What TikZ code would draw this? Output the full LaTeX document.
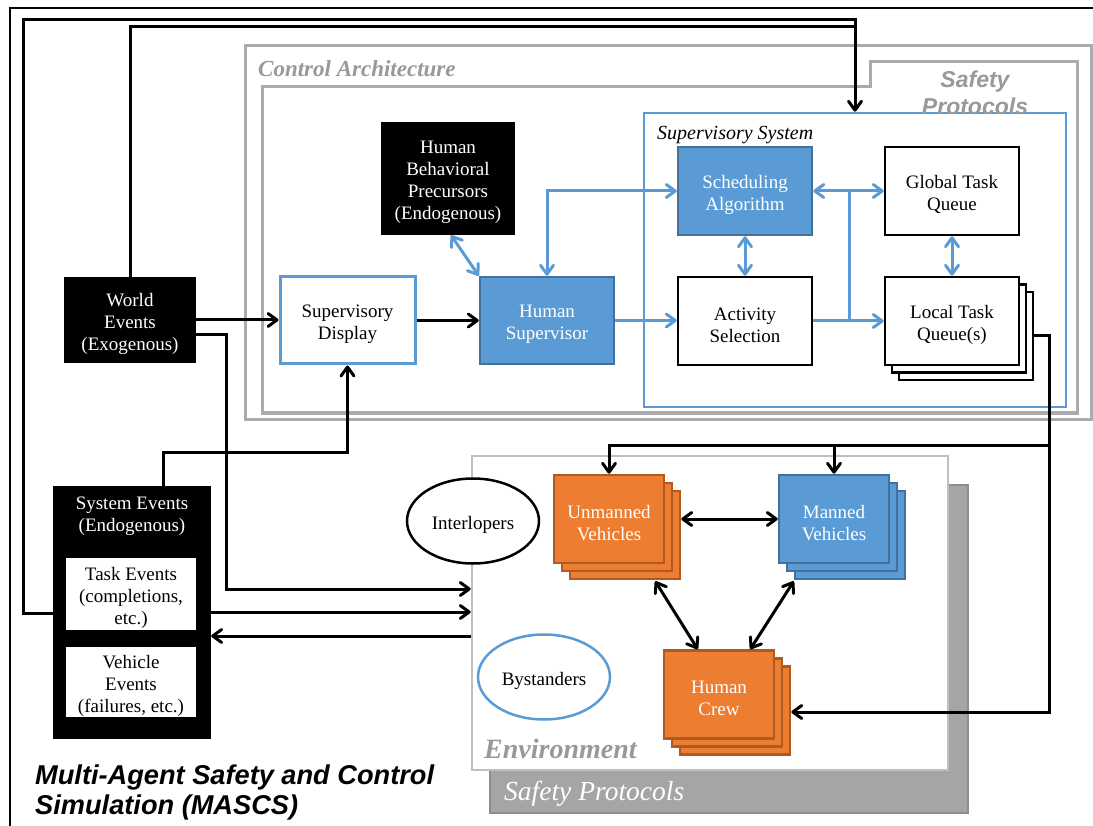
\documentclass[tikz,border=0pt]{standalone}
\usepackage{fontspec}
\setmainfont{Liberation Serif}
\newfontfamily\arialf{Liberation Sans}
\usetikzlibrary{arrows.meta,shadows,calc,shapes.geometric}
\definecolor{bl}{HTML}{5B9BD5}
\definecolor{bld}{HTML}{41719C}
\definecolor{orf}{HTML}{ED7D31}
\definecolor{ord}{HTML}{AE5A21}
\definecolor{frg}{HTML}{ABABAB}
\definecolor{txg}{HTML}{999999}
\definecolor{envg}{HTML}{BFBFBF}
\definecolor{shg}{HTML}{A5A5A5}
\definecolor{shgd}{HTML}{8E8E8E}
\begin{document}
\begin{tikzpicture}[x=1pt,y=-1pt,
  >={Straight Barb[length=9pt,width=13pt,round]},
  every node/.style={inner sep=0pt, font=\fontsize{19}{22}\selectfont, align=center},
  tone/.style={text height=21pt},
  ttwo/.style={text height=43pt},
  tthree/.style={text height=65pt},
  tfour/.style={text height=87pt},
  conn/.style={line width=3pt, draw=black},
  bconn/.style={line width=3pt, draw=bl},
  blkbox/.style={fill=black, text=white},
  whbox/.style={fill=white, draw=black, line width=2.5pt},
  bluebox/.style={fill=bl, draw=bld, line width=2.5pt, text=white},
  wide/.style={minimum width=134pt, minimum height=88pt},
  veh/.style={minimum width=110pt, minimum height=88pt, text=white, line width=2.5pt, ttwo},
  orstack/.style={veh, fill=orf, draw=ord,
     copy shadow={shadow xshift=16pt, shadow yshift=-16pt, fill=orf, draw=ord, line width=2.5pt},
     copy shadow={shadow xshift=8pt, shadow yshift=-8pt, fill=orf, draw=ord, line width=2.5pt}},
  blstack/.style={veh, fill=bl, draw=bld,
     copy shadow={shadow xshift=16pt, shadow yshift=-16pt, fill=bl, draw=bld, line width=2.5pt},
     copy shadow={shadow xshift=8pt, shadow yshift=-8pt, fill=bl, draw=bld, line width=2.5pt}},
  whstack/.style={whbox, wide,
     copy shadow={shadow xshift=14pt, shadow yshift=-15pt, fill=white, draw=black, line width=2.5pt},
     copy shadow={shadow xshift=7pt, shadow yshift=-7.5pt, fill=white, draw=black, line width=2.5pt}},
  lbl/.style={anchor=base west}
]
\useasboundingbox (0,0) rectangle (1093,826);
\fill[white] (0,0) rectangle (1093,826);

% outer frame
\draw[line width=2.5pt] (10,840) -- (10,8) -- (1100,8);

% control architecture frames
\node[draw=frg, line width=3pt, minimum width=846pt, minimum height=373pt] (ca) at (668,232.5) {};
\draw[frg, line width=3pt] (262,87) -- (870,87) -- (870,62) -- (1077,62) -- (1077,413) -- (262,413) -- cycle;
\node[draw=bl, line width=2.5pt, minimum width=422pt, minimum height=294pt] (supsys) at (855,260) {};

% environment
\filldraw[fill=shg, draw=shgd, line width=2pt] (490,485) rectangle (968,813);
\node[draw=envg, fill=white, line width=2.5pt, minimum width=476pt, minimum height=314pt] (env) at (710,613) {};

% labels
\node[lbl, font=\fontsize{23}{27}\selectfont\bfseries\itshape, text=txg] (calbl) at (258,77) {Control Architecture};
\node[lbl, font=\fontsize{20}{24}\selectfont\itshape] (sslbl) at (657,140) {Supervisory System};
\node[lbl, font=\fontsize{28}{32}\selectfont\bfseries\itshape, text=txg] (envlbl) at (484,758) {Environment};
\node[lbl, font=\fontsize{27.5}{32}\selectfont\itshape, text=white] (sp2lbl) at (504,800) {Safety Protocols};
\node[anchor=north west, align=left, font=\arialf\fontsize{27.2}{30}\selectfont\bfseries\itshape] (title) at (35,765) {Multi-Agent Safety and Control\\Simulation (MASCS)};

% nodes
\node[blkbox, tthree, minimum width=132pt, minimum height=86pt] (we) at (130,320) {World\\Events\\(Exogenous)};
\node[fill=white, draw=bl, line width=3pt, ttwo, minimum width=135pt, minimum height=87pt] (sd) at (347.5,320.5) {Supervisory\\Display};
\node[bluebox, ttwo, minimum width=134pt, minimum height=87pt] (hs) at (547,320.5) {Human\\Supervisor};
\node[blkbox, tfour, minimum width=134pt, minimum height=113pt] (hbp) at (448,178.5) {Human\\Behavioral\\Precursors\\(Endogenous)};
\node[bluebox, wide, ttwo] (sa) at (745,191) {Scheduling\\Algorithm};
\node[whbox, wide, ttwo] (gtq) at (952,191) {Global Task\\Queue};
\node[whbox, wide, ttwo] (as) at (745,321) {Activity\\Selection};
\node[whstack, ttwo] (ltq) at (952,321) {Local Task\\Queue(s)};

\node[blkbox, minimum width=158pt, minimum height=253pt] (sysev) at (132,612.5) {};
\node[text=white] (sysevlbl) at (132,516) {System Events\\(Endogenous)};
\node[fill=white, tthree, minimum width=130pt, minimum height=72pt] (te) at (131,594) {Task Events\\(completions,\\etc.)};
\node[fill=white, tthree, minimum width=130pt, minimum height=70pt] (ve) at (131,682) {Vehicle\\Events\\(failures, etc.)};

\node[ellipse, draw=black, fill=white, line width=2.5pt, tone, minimum width=132pt, minimum height=85pt] (inter) at (473,521) {Interlopers};
\node[ellipse, draw=bl, fill=white, line width=2.5pt, tone, minimum width=132pt, minimum height=85pt] (byst) at (544,677) {Bystanders};

\node[orstack] (uv) at (609,519) {Unmanned\\Vehicles};
\node[blstack] (mv) at (834,519) {Manned\\Vehicles};
\node[orstack] (hc) at (719,694.5) {Human\\Crew};

\node[font=\arialf\fontsize{23}{27}\selectfont\bfseries\itshape, text=txg] (splbl) at (975,93) {Safety\\Protocols};

% black connectors
\draw[conn,->] (we.east) -- (we.east -| sd.west);
\draw[conn,->] (sd.east) -- (sd.east -| hs.west);
\draw[conn,->] (we.east |- 0,335) -- (226,335) |- (env.west |- 0,589);
\draw[conn,->] (sysev.north -| 163,0) |- (sd.south |- 0,452) -- (sd.south);
\draw[conn,->] (sysev.east |- 0,612) -- (env.west |- 0,612);
\draw[conn,->] (env.west |- 0,636) -- (sysev.east |- 0,636);
\draw[conn,->] (sysev.west |- 0,613) -- (23,613) -- (23,20) -- (855,20) -- (supsys.north -| 855,0);
\draw[conn] (we.north) |- (855,27);

% blue connectors
\draw[bconn,<->] ($(hbp.south)+(3,0)$) -- (hs.north west);
\draw[bconn,<->] (hs.north) |- (sa.west);
\draw[bconn,->] (hs.east) -- (hs.east -| as.west);
\draw[bconn,<->] (sa.south) -- (sa.south |- as.north);
\draw[bconn,<->] (gtq.south) -- (ltq.north);
\coordinate (br1) at (849,321);
\coordinate (br2) at (849,191);
\draw[bconn,->] (as.east) -- (as.east -| ltq.west);
\draw[bconn] (br1) -- (br2);
\draw[bconn,->] (br2) -- (sa.east);
\draw[bconn,->] (br2) -- (gtq.west);

% queue to environment
\draw[conn,->] ($(ltq.east)+(14,15)$) -- (1049,336) -- (1049,712) -- ($(hc.east)+(16,17.5)$);
\draw[conn,->] (1049,445) -| (uv.north);
\draw[conn,->] (mv.north |- 0,445) -- (mv.north);

% vehicle interactions
\draw[conn,<->] ($(uv.east)+(16,0)$) -- (mv.west);
\draw[conn,<->] ($(uv.south east)+(-10,17)$) -- ($(hc.north west)+(35,0)$);
\draw[conn,<->] ($(mv.south west)+(16,17)$) -- ($(hc.north east)+(-25,0)$);
\end{tikzpicture}
\end{document}
